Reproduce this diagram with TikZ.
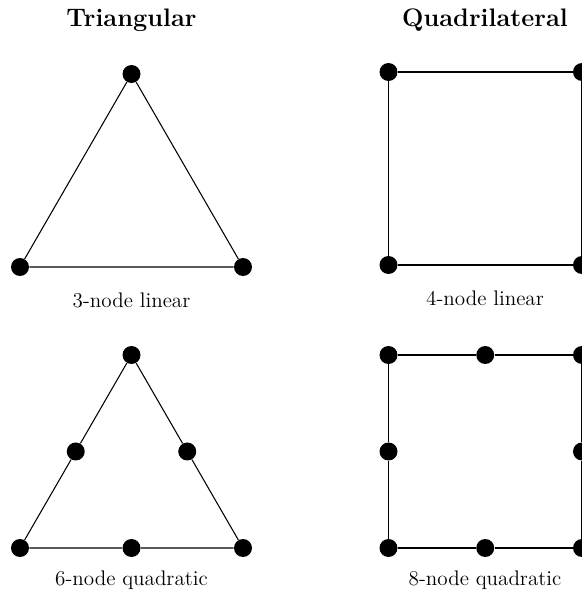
\documentclass[tikz,border=0pt]{standalone}
\usepackage{amsmath, amssymb}
\tikzset{
  elnode/.style={circle, fill=black, inner sep=0pt, minimum size=0.36cm},
  elnum/.style={font=\Large\bfseries},
  ellabel/.style={font=\large},
  eledge/.style={semithick}
}

\begin{document}
\begin{tikzpicture}
    \useasboundingbox (0,0) rectangle (11.64,11.88);

    % Titles
    \node[elnum] (ttri) at (2.63,11.48) {Triangular};
    \node[elnum] (tquad) at (9.70,11.48) {Quadrilateral};

    % 3-node linear triangle
    \node[elnode] (a1) at (0.40,6.54) {};
    \node[elnode] (a2) at (4.86,6.54) {};
    \node[elnode] (a3) at (2.63,10.40) {};
    \draw[eledge] (a1) -- (a2) -- (a3) -- (a1);
    \node[ellabel] (la) at (2.63,5.88) {3-node linear};

    % 4-node linear quadrilateral
    \node[elnode] (b1) at (7.77,6.58) {};
    \node[elnode] (b2) at (11.64,6.58) {};
    \node[elnode] (b3) at (11.64,10.44) {};
    \node[elnode] (b4) at (7.77,10.44) {};
    \draw[eledge] (b1) -- (b2) -- (b3) -- (b4) -- (b1);
    \node[ellabel] (lb) at (9.70,5.92) {4-node linear};

    % 6-node quadratic triangle
    \node[elnode] (c1) at (0.40,0.92) {};
    \node[elnode] (c2) at (4.86,0.92) {};
    \node[elnode] (c3) at (2.63,4.78) {};
    \node[elnode] (c4) at (2.63,0.92) {};
    \node[elnode] (c5) at (3.745,2.85) {};
    \node[elnode] (c6) at (1.515,2.85) {};
    \draw[eledge] (c1) -- (c4) -- (c2) -- (c5) -- (c3) -- (c6) -- (c1);
    \node[ellabel] (lc) at (2.63,0.28) {6-node quadratic};

    % 8-node quadratic quadrilateral
    \node[elnode] (d1) at (7.77,0.92) {};
    \node[elnode] (d2) at (11.64,0.92) {};
    \node[elnode] (d3) at (11.64,4.78) {};
    \node[elnode] (d4) at (7.77,4.78) {};
    \node[elnode] (d5) at (9.705,0.92) {};
    \node[elnode] (d6) at (11.64,2.85) {};
    \node[elnode] (d7) at (9.705,4.78) {};
    \node[elnode] (d8) at (7.77,2.85) {};
    \draw[eledge] (d1) -- (d5) -- (d2) -- (d6) -- (d3) -- (d7) -- (d4) -- (d8) -- (d1);
    \node[ellabel] (ld) at (9.70,0.28) {8-node quadratic};
\end{tikzpicture}
\end{document}
